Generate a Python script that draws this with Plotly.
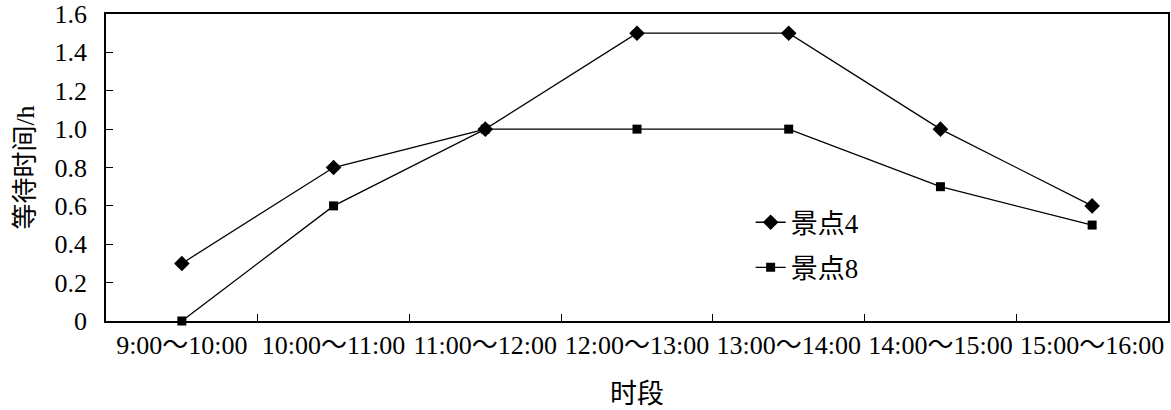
import plotly.graph_objects as go

categories = ["9:00～10:00", "10:00～11:00", "11:00～12:00", "12:00～13:00",
              "13:00～14:00", "14:00～15:00", "15:00～16:00"]
spot4 = [0.3, 0.8, 1.0, 1.5, 1.5, 1.0, 0.6]
spot8 = [0.0, 0.6, 1.0, 1.0, 1.0, 0.7, 0.5]
y_ticks = [0, 0.2, 0.4, 0.6, 0.8, 1.0, 1.2, 1.4, 1.6]
y_ticktext = ["0", "0.2", "0.4", "0.6", "0.8", "1.0", "1.2", "1.4", "1.6"]

FONT = "Liberation Serif, Noto Sans CJK SC, serif"
FS = 26

fig = go.Figure()
fig.add_trace(go.Scatter(
    x=categories, y=spot4, name="景点4", mode="lines+markers",
    line=dict(color="black", width=1.3),
    marker=dict(symbol="diamond", size=12, color="black"),
    legendgroup="a", cliponaxis=False,
))
fig.add_trace(go.Scatter(
    x=categories, y=spot8, name="景点8", mode="lines+markers",
    line=dict(color="black", width=1.3),
    marker=dict(symbol="square", size=9, color="black"),
    legendgroup="b", cliponaxis=False,
))

fig.update_layout(
    width=1171, height=410,
    margin=dict(l=106, r=3, t=14, b=89, autoexpand=False),
    paper_bgcolor="white", plot_bgcolor="white",
    font=dict(family=FONT, size=FS, color="black"),
    showlegend=True,
    legend=dict(x=0.607, y=0.40, xanchor="left", yanchor="top",
                bgcolor="rgba(0,0,0,0)", font=dict(family=FONT, size=27),
                tracegroupgap=7, itemwidth=30),
)
fig.update_xaxes(
    type="category", range=[-0.5, 6.5], automargin=False, tickangle=0,
    showline=True, linecolor="black", linewidth=1.5, mirror=True,
    ticks="inside", tickson="boundaries", ticklen=7, tickcolor="black",
    showgrid=False, zeroline=False, ticklabeloverflow="allow",
    tickfont=dict(family=FONT, size=FS),
    title=dict(text="时段", font=dict(family=FONT, size=27), standoff=25),
)
fig.update_yaxes(
    range=[0, 1.6], tickvals=y_ticks, ticktext=y_ticktext, automargin=False,
    showline=True, linecolor="black", linewidth=1.5, mirror=True,
    ticks="inside", ticklen=7, tickcolor="black", ticklabelstandoff=12,
    showgrid=False, zeroline=False, ticklabeloverflow="allow",
    tickfont=dict(family=FONT, size=FS),
    title=dict(text="等待时间/h", font=dict(family=FONT, size=FS), standoff=12),
)

fig.write_html(
    "out.html",
    config={"displayModeBar": False},
    post_script="document.body.style.margin='0';document.body.style.overflow='hidden';",
)
